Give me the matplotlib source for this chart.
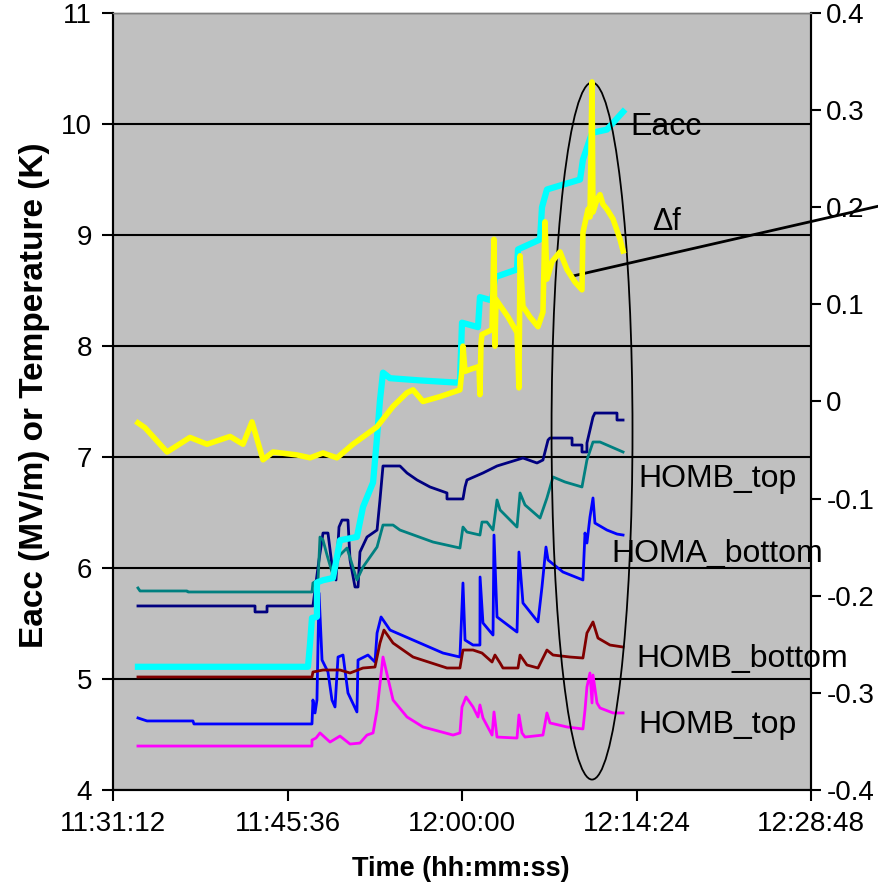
import matplotlib
matplotlib.use("Agg")
import matplotlib.pyplot as plt
from matplotlib.patches import Ellipse
from matplotlib.lines import Line2D
from matplotlib.ticker import FixedLocator, FuncFormatter

plt.rcParams["font.family"] = ["Liberation Sans", "DejaVu Sans"]

# Time is in minutes after 11:00:00
eacc_t = [33.26, 47.29, 47.46, 47.62, 48.03, 48.03, 48.53, 49.35, 49.68, 49.93, 51.33, 51.83,
          52.66, 52.99, 53.23, 53.48, 54.06, 56.53, 59.59, 59.83, 60.00, 61.32, 61.48, 62.48,
          62.72, 64.54, 64.62, 66.44, 66.60, 67.01, 69.74, 69.98, 70.73, 71.96, 73.04, 73.29]
eacc_v = [5.11, 5.11, 5.32, 5.55, 5.56, 5.87, 5.89, 5.91, 6.10, 6.25, 6.28, 6.55,
          6.77, 7.18, 7.51, 7.76, 7.71, 7.69, 7.67, 7.68, 8.21, 8.17, 8.44, 8.41,
          8.62, 8.69, 8.87, 8.96, 9.25, 9.41, 9.50, 9.68, 9.92, 9.95, 10.08, 10.11]

# frequency shift (right axis)
df_t = [33.26, 33.84, 35.66, 37.55, 38.96, 40.86, 41.93, 42.67, 43.58, 44.40, 46.38, 47.46,
        48.53, 49.68, 51.00, 52.99, 54.31, 55.46, 55.96, 56.78, 58.18, 59.83, 60.00, 60.08,
        60.25, 60.66, 61.40, 61.48, 61.57, 61.65, 62.48, 62.64, 62.72, 62.81, 62.97, 63.80,
        64.54, 64.70, 64.79, 65.03, 65.61, 66.27, 66.68, 66.85, 67.01, 67.43, 68.09, 68.66,
        69.32, 69.90, 69.98, 70.40, 70.56, 70.73, 70.81, 71.14, 71.39, 71.63, 71.96, 72.46,
        73.04, 73.29]
df_v = [-0.022, -0.027, -0.052, -0.037, -0.044, -0.036, -0.044, -0.021, -0.060, -0.052, -0.055, -0.058,
        -0.053, -0.058, -0.044, -0.026, -0.005, 0.009, 0.012, 0.000, 0.005, 0.012, 0.033, 0.057,
        0.031, 0.033, 0.036, 0.007, 0.060, 0.069, 0.074, 0.167, 0.057, 0.105, 0.102, 0.087,
        0.071, 0.014, 0.150, 0.098, 0.087, 0.077, 0.092, 0.185, 0.126, 0.144, 0.154, 0.136,
        0.123, 0.115, 0.174, 0.198, 0.190, 0.329, 0.195, 0.208, 0.213, 0.203, 0.198, 0.188,
        0.167, 0.155]

homb_top_hi_t = [33.26, 42.92, 42.92, 43.91, 43.91, 47.70, 47.87, 48.20, 48.53, 48.94, 49.35, 49.60,
                 49.85, 50.10, 50.59, 50.76, 51.17, 51.42, 51.58, 52.16, 52.99, 53.23, 53.48, 54.88,
                 55.46, 56.29, 57.36, 58.76, 58.76, 60.08, 60.25, 60.41, 61.73, 62.89, 65.03, 66.19,
                 66.68, 67.10, 67.26, 69.08, 69.08, 69.90, 69.90, 70.31, 70.31, 70.56, 70.81, 70.97,
                 72.79, 72.79, 73.29]
homb_top_hi_v = [5.658, 5.658, 5.604, 5.604, 5.658, 5.658, 5.802, 6.072, 6.315, 6.315, 5.955, 5.892,
                 6.369, 6.432, 6.432, 6.072, 5.829, 5.829, 6.144, 6.279, 6.342, 6.613, 6.919, 6.919,
                 6.856, 6.793, 6.730, 6.676, 6.622, 6.622, 6.730, 6.793, 6.856, 6.919, 6.991, 6.946,
                 6.973, 7.153, 7.171, 7.171, 7.108, 7.108, 7.045, 7.045, 7.126, 7.243, 7.360, 7.396,
                 7.396, 7.333, 7.333]

homa_bot_hi_t = [33.26, 33.43, 37.31, 37.39, 47.62, 47.70, 48.12, 48.28, 48.53, 48.86, 49.27, 49.93,
                 50.51, 51.33, 51.83, 52.99, 53.48, 54.31, 54.88, 57.61, 59.83, 60.08, 60.41, 61.48,
                 61.65, 62.06, 62.56, 62.89, 63.14, 64.54, 64.79, 65.20, 66.44, 67.01, 67.51, 68.50,
                 69.90, 70.31, 70.81, 71.39, 73.29]
homa_bot_hi_v = [5.820, 5.793, 5.793, 5.784, 5.784, 5.865, 5.892, 6.279, 6.252, 6.117, 5.964, 6.117,
                 6.180, 5.892, 6.009, 6.189, 6.387, 6.387, 6.342, 6.234, 6.180, 6.369, 6.324, 6.297,
                 6.414, 6.414, 6.342, 6.613, 6.523, 6.369, 6.676, 6.568, 6.450, 6.631, 6.820, 6.775,
                 6.730, 6.973, 7.135, 7.135, 7.045]

homa_bot_t = [33.26, 34.01, 37.80, 37.88, 47.62, 47.70, 47.87, 48.03, 48.20, 48.45, 48.94, 49.27,
              49.52, 49.77, 50.18, 50.59, 51.33, 51.42, 52.24, 52.82, 52.99, 53.32, 54.06, 55.96,
              58.43, 59.83, 60.08, 60.25, 60.91, 61.48, 61.49, 61.73, 62.56, 62.64, 62.89, 64.54,
              64.70, 65.03, 66.27, 66.60, 66.93, 67.10, 68.33, 69.98, 70.15, 70.31, 70.56, 70.81,
              70.97, 71.96, 72.79, 73.29]
homa_bot_v = [4.649, 4.622, 4.622, 4.595, 4.595, 4.811, 4.694, 4.811, 5.775, 5.171, 5.063, 4.811,
              4.748, 5.198, 5.216, 4.874, 4.703, 5.171, 5.216, 5.153, 5.414, 5.559, 5.441, 5.351,
              5.234, 5.198, 5.865, 5.351, 5.306, 5.306, 5.919, 5.505, 5.396, 6.297, 5.559, 5.423,
              6.144, 5.685, 5.514, 5.829, 6.189, 6.072, 5.964, 5.892, 6.315, 6.225, 6.459, 6.631,
              6.405, 6.342, 6.306, 6.297]

homb_bot_t = [33.26, 47.62, 47.70, 48.53, 49.93, 50.76, 51.83, 52.82, 53.23, 53.56, 54.31, 55.96,
              58.76, 59.83, 60.08, 60.91, 61.65, 62.48, 62.72, 63.14, 63.38, 64.62, 64.79, 65.36,
              66.27, 67.01, 67.51, 68.91, 69.98, 70.31, 70.81, 71.22, 72.21, 73.29]
homb_bot_v = [5.018, 5.018, 5.063, 5.081, 5.081, 5.054, 5.099, 5.108, 5.324, 5.441, 5.324, 5.198,
              5.099, 5.099, 5.261, 5.261, 5.234, 5.153, 5.216, 5.144, 5.099, 5.099, 5.216, 5.126,
              5.099, 5.261, 5.216, 5.198, 5.189, 5.414, 5.514, 5.369, 5.306, 5.288]

homb_top_lo_t = [33.26, 47.62, 47.62, 47.95, 48.28, 49.11, 49.93, 50.76, 51.58, 52.16, 52.66, 52.99,
                 53.48, 54.31, 55.46, 56.78, 59.26, 59.83, 60.00, 60.33, 60.91, 61.32, 61.48, 61.73,
                 62.48, 62.64, 62.89, 64.54, 64.70, 64.95, 65.20, 66.68, 67.01, 67.26, 68.66, 69.98,
                 70.15, 70.31, 70.56, 70.73, 70.81, 71.14, 71.39, 72.46, 73.29]
homb_top_lo_v = [4.396, 4.396, 4.450, 4.468, 4.514, 4.432, 4.486, 4.414, 4.423, 4.495, 4.514, 4.721,
                 5.198, 4.811, 4.658, 4.568, 4.495, 4.514, 4.748, 4.838, 4.748, 4.658, 4.766, 4.649,
                 4.495, 4.703, 4.477, 4.468, 4.676, 4.514, 4.477, 4.495, 4.694, 4.604, 4.568, 4.550,
                 4.721, 4.928, 5.054, 4.784, 5.036, 4.784, 4.739, 4.694, 4.694]

x_ticks = [31.2, 45.6, 60.0, 74.4, 88.8]
left_ticks = [4, 5, 6, 7, 8, 9, 10, 11]
right_ticks = [-0.4, -0.3, -0.2, -0.1, 0.0, 0.1, 0.2, 0.3, 0.4]


def hms(m, pos=None):
    total = int(round(m * 60))
    h = 11 + total // 3600
    rem = total % 3600
    return f"{h}:{rem // 60:02d}:{rem % 60:02d}"


def right_fmt(v, pos=None):
    if abs(v) < 1e-9:
        return "0"
    return f"{v:.1f}"


W, H = 879, 891
fig = plt.figure(figsize=(W / 100, H / 100), dpi=100)
ax = fig.add_axes([113 / W, 1 - 790 / H, 698 / W, 777 / H])
ax.set_facecolor("#C0C0C0")
ax.set_xlim(x_ticks[0], x_ticks[-1])
ax.set_ylim(4, 11)

ax2 = ax.twinx()
ax2.set_ylim(-0.4, 0.4)

tick_fs = 20
ax.xaxis.set_major_locator(FixedLocator(x_ticks))
ax.xaxis.set_major_formatter(FuncFormatter(hms))
ax.yaxis.set_major_locator(FixedLocator(left_ticks))
ax2.yaxis.set_major_locator(FixedLocator(right_ticks))
ax2.yaxis.set_major_formatter(FuncFormatter(right_fmt))
ax.tick_params(axis="x", direction="out", length=8, width=1.5, labelsize=tick_fs, pad=7)
ax.tick_params(axis="y", direction="out", length=8, width=1.5, labelsize=tick_fs, pad=7)
ax2.tick_params(axis="y", direction="out", length=7, width=1.5, labelsize=tick_fs, pad=4)
ax.yaxis.grid(True, color="black", linewidth=1.5)
ax.set_axisbelow(True)

for a in (ax, ax2):
    a.spines["top"].set_color("#808080")
    a.spines["top"].set_linewidth(1.0)
    for s in ("left", "right", "bottom"):
        a.spines[s].set_linewidth(1.5)
        a.spines[s].set_color("black")

# data series
ax.plot(homb_top_hi_t, homb_top_hi_v, color="#000080", lw=2.0, zorder=3)
ax.plot(homa_bot_hi_t, homa_bot_hi_v, color="#008080", lw=2.0, zorder=3)
ax.plot(homa_bot_t, homa_bot_v, color="#0000FF", lw=2.0, zorder=3)
ax.plot(homb_bot_t, homb_bot_v, color="#800000", lw=2.0, zorder=3)
ax.plot(homb_top_lo_t, homb_top_lo_v, color="#FF00FF", lw=2.0, zorder=3)
ax.plot(eacc_t, eacc_v, color="#00FFFF", lw=4.5, zorder=4)
ax2.plot(df_t, df_v, color="#FFFF00", lw=4.0, zorder=4)

# series labels
lab_fs = 23
ax.text(73.87, 9.90, "Eacc", fontsize=lab_fs, va="baseline", ha="left", zorder=6)
ax.text(75.68, 9.045, "\u0394f", fontsize=22, va="baseline", ha="left", zorder=6)
ax.text(74.52, 6.730, "HOMB_top", fontsize=lab_fs, va="baseline", ha="left", zorder=6)
ax.text(72.29, 6.054, "HOMA_bottom", fontsize=lab_fs, va="baseline", ha="left", zorder=6, clip_on=False)
ax.text(74.36, 5.108, "HOMB_bottom", fontsize=lab_fs, va="baseline", ha="left", zorder=6, clip_on=False)
ax.text(74.52, 4.514, "HOMB_top", fontsize=lab_fs, va="baseline", ha="left", zorder=6)

# highlight of the quench region and the pointer to the frequency trace
ax.add_patch(Ellipse((70.73, 7.234), 6.68, 6.28, fill=False, edgecolor="black", lw=1.3, zorder=5))
ax.add_line(Line2D([69.16, 94.41], [8.631, 9.261], color="black", lw=2.0, zorder=7, clip_on=False))

fig.text(35 / W, 1 - 395 / H, "Eacc (MV/m) or Temperature (K)", rotation=90, fontsize=24,
         fontweight="bold", ha="center", va="center")
fig.text(461 / W, 1 - 869 / H, "Time (hh:mm:ss)", fontsize=19.5, fontweight="bold",
         ha="center", va="center")

fig.savefig("out.png", dpi=100, facecolor="white")
